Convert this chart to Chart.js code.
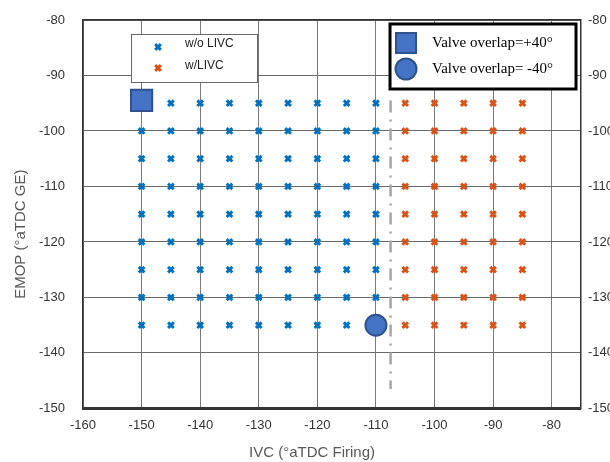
<!DOCTYPE html>
<html>
<head>
<meta charset="utf-8">
<script src="https://cdn.jsdelivr.net/npm/chart.js@4/dist/chart.umd.min.js"></script>
<style>
  html, body { margin: 0; padding: 0; background: #fff; overflow: hidden; }
  #wrap { position: relative; width: 621px; height: 462px; }
</style>
</head>
<body>
<div id="wrap"><canvas id="chart"></canvas></div>
<script>
// IVC settings (°aTDC Firing) for each group, and EMOP levels (°aTDC GE)
const ivcWithoutLivc = [-150, -145, -140, -135, -130, -125, -120, -115, -110];
const ivcWithLivc = [-105, -100, -95, -90, -85];
const emopLevels = [-95, -100, -105, -110, -115, -120, -125, -130, -135];

// highlighted cases
const overlapPlus40 = [{ x: -150, y: -94.5 }];
const overlapMinus40 = [{ x: -110, y: -135 }];

// dash-dot boundary
const boundaryIvc = [-107.5, -107.5];
const boundaryEmop = [-94.5, -146.5];

// axis ticks
const xTicks = [-160, -150, -140, -130, -120, -110, -100, -90, -80];
const yTicks = [-80, -90, -100, -110, -120, -130, -140, -150];

const xTitle = 'IVC (°aTDC Firing)';
const yTitle = 'EMOP (°aTDC GE)';

const BLUE = '#0072BD';
const ORANGE = '#D95319';
const MARK_FILL = '#4472C4';
const MARK_EDGE = '#2F528F';

function grid(ivcs) {
  const pts = [];
  ivcs.forEach(x => emopLevels.forEach(y => pts.push({ x, y })));
  return pts;
}

// small helper to draw a marker in the legend
function drawMarker(ctx, style, x, y, r, fill, edge, lw) {
  ctx.save();
  ctx.fillStyle = fill;
  ctx.strokeStyle = edge;
  ctx.lineWidth = lw;
  ctx.beginPath();
  if (style === 'x') {
    const d = r * Math.SQRT1_2;
    ctx.moveTo(x - d, y - d); ctx.lineTo(x + d, y + d);
    ctx.moveTo(x + d, y - d); ctx.lineTo(x - d, y + d);
    ctx.stroke();
  } else if (style === 'rect') {
    ctx.rect(x - r, y - r, 2 * r, 2 * r);
    ctx.fill(); ctx.stroke();
  } else {
    ctx.arc(x, y, r, 0, Math.PI * 2);
    ctx.fill(); ctx.stroke();
  }
  ctx.restore();
}

// legends + axis titles (titles sit a bit off-centre in the original)
const decorations = {
  id: 'decorations',
  afterDraw(chart) {
    const { ctx, chartArea: a } = chart;
    ctx.save();
    // left legend (markers)
    let bx = a.left + 48, by = a.top + 14;
    ctx.fillStyle = '#fff';
    ctx.fillRect(bx, by, 126, 48);
    ctx.strokeStyle = '#666';
    ctx.lineWidth = 1;
    ctx.strokeRect(bx + 0.5, by + 0.5, 126, 48);
    drawMarker(ctx, 'x', bx + 27, by + 13, 4, BLUE, BLUE, 3);
    drawMarker(ctx, 'x', bx + 27, by + 34, 4, ORANGE, ORANGE, 3);
    ctx.fillStyle = '#222';
    ctx.font = '12px "Liberation Sans", Arial, sans-serif';
    ctx.textBaseline = 'middle';
    ctx.fillText('w/o LIVC', bx + 54, by + 10);
    ctx.fillText('w/LIVC', bx + 54, by + 32);

    // right legend (valve overlap)
    bx = a.left + 307; by = a.top + 4;
    ctx.fillStyle = '#fff';
    ctx.fillRect(bx, by, 186, 65);
    ctx.strokeStyle = '#000';
    ctx.lineWidth = 3;
    ctx.strokeRect(bx, by, 186, 65);
    drawMarker(ctx, 'rect', bx + 16, by + 19, 10, MARK_FILL, MARK_EDGE, 2);
    drawMarker(ctx, 'circle', bx + 16, by + 45, 10.5, MARK_FILL, MARK_EDGE, 2);
    ctx.fillStyle = '#000';
    ctx.font = '15px "Liberation Serif", "Times New Roman", serif';
    ctx.fillText('Valve overlap=+40°', bx + 42, by + 19);
    ctx.fillText('Valve overlap= -40°', bx + 42, by + 45);

    // axis titles
    ctx.fillStyle = '#595959';
    ctx.font = '15px "Liberation Sans", Arial, sans-serif';
    ctx.textAlign = 'center';
    ctx.fillText(xTitle, (a.left + a.right) / 2 - 20, a.bottom + 44);
    ctx.translate(21, (a.top + a.bottom) / 2 + 20);
    ctx.rotate(-Math.PI / 2);
    ctx.fillText(yTitle, 0, 0);
    ctx.restore();
  }
};

const tickFont = { family: '"Liberation Sans", Arial, sans-serif', size: 13 };

// keep only half a label of room above/below the plot
const trimPadding = axis => { axis.paddingTop = 8; axis.paddingBottom = 8; };

new Chart(document.getElementById('chart'), {
  type: 'scatter',
  data: {
    datasets: [
      {
        label: 'Valve overlap=+40°',
        data: overlapPlus40,
        pointStyle: 'rect',
        pointRadius: 15,
        pointHoverRadius: 15,
        backgroundColor: MARK_FILL,
        borderColor: MARK_EDGE,
        borderWidth: 2,
        order: 0
      },
      {
        label: 'Valve overlap= -40°',
        data: overlapMinus40,
        pointStyle: 'circle',
        pointRadius: 10.5,
        pointHoverRadius: 10.5,
        backgroundColor: MARK_FILL,
        borderColor: MARK_EDGE,
        borderWidth: 2,
        order: 0
      },
      {
        label: 'w/o LIVC',
        data: grid(ivcWithoutLivc),
        pointStyle: 'crossRot',
        pointRadius: 4,
        pointHoverRadius: 4,
        borderColor: BLUE,
        backgroundColor: BLUE,
        borderWidth: 3,
        order: 2
      },
      {
        label: 'w/LIVC',
        data: grid(ivcWithLivc),
        pointStyle: 'crossRot',
        pointRadius: 4,
        pointHoverRadius: 4,
        borderColor: ORANGE,
        backgroundColor: ORANGE,
        borderWidth: 3,
        order: 2
      },
      {
        label: 'boundary',
        data: boundaryIvc.map((x, i) => ({ x, y: boundaryEmop[i] })),
        showLine: true,
        pointRadius: 0,
        borderColor: '#A6A6A6',
        borderWidth: 2.5,
        borderDash: [12, 7, 2, 7],
        order: 1
      }
    ]
  },
  options: {
    responsive: true,
    maintainAspectRatio: false,
    animation: false,
    layout: { padding: { top: 20, left: 21, right: 0, bottom: 20 } },
    plugins: {
      legend: { display: false },
      tooltip: { enabled: false }
    },
    scales: {
      x: {
        type: 'linear',
        min: -160,
        max: -75,
        afterBuildTicks: axis => { axis.ticks = xTicks.map(v => ({ value: v })); },
        grid: { color: '#7a7a7a', lineWidth: 1, drawTicks: false },
        border: { color: '#333', width: 3 },
        ticks: { font: tickFont, color: '#333', padding: 9, maxRotation: 0 }
      },
      x2: {
        type: 'linear',
        position: 'top',
        min: -160,
        max: -75,
        grid: { drawOnChartArea: false, drawTicks: false },
        border: { color: '#333', width: 1.5 },
        ticks: { display: false }
      },
      y: {
        type: 'linear',
        min: -150,
        max: -80,
        afterBuildTicks: axis => { axis.ticks = yTicks.map(v => ({ value: v })); },
        afterFit: trimPadding,
        grid: { color: '#6a6a6a', lineWidth: 1, drawTicks: false },
        border: { color: '#333', width: 1.5 },
        ticks: { font: tickFont, color: '#333', padding: 18 }
      },
      y2: {
        type: 'linear',
        position: 'right',
        min: -150,
        max: -80,
        afterBuildTicks: axis => { axis.ticks = yTicks.map(v => ({ value: v })); },
        afterFit: trimPadding,
        grid: { drawOnChartArea: false, drawTicks: false },
        border: { color: '#333', width: 1.5 },
        ticks: { font: tickFont, color: '#333', padding: 7 }
      }
    }
  },
  plugins: [decorations]
});
</script>
</body>
</html>
